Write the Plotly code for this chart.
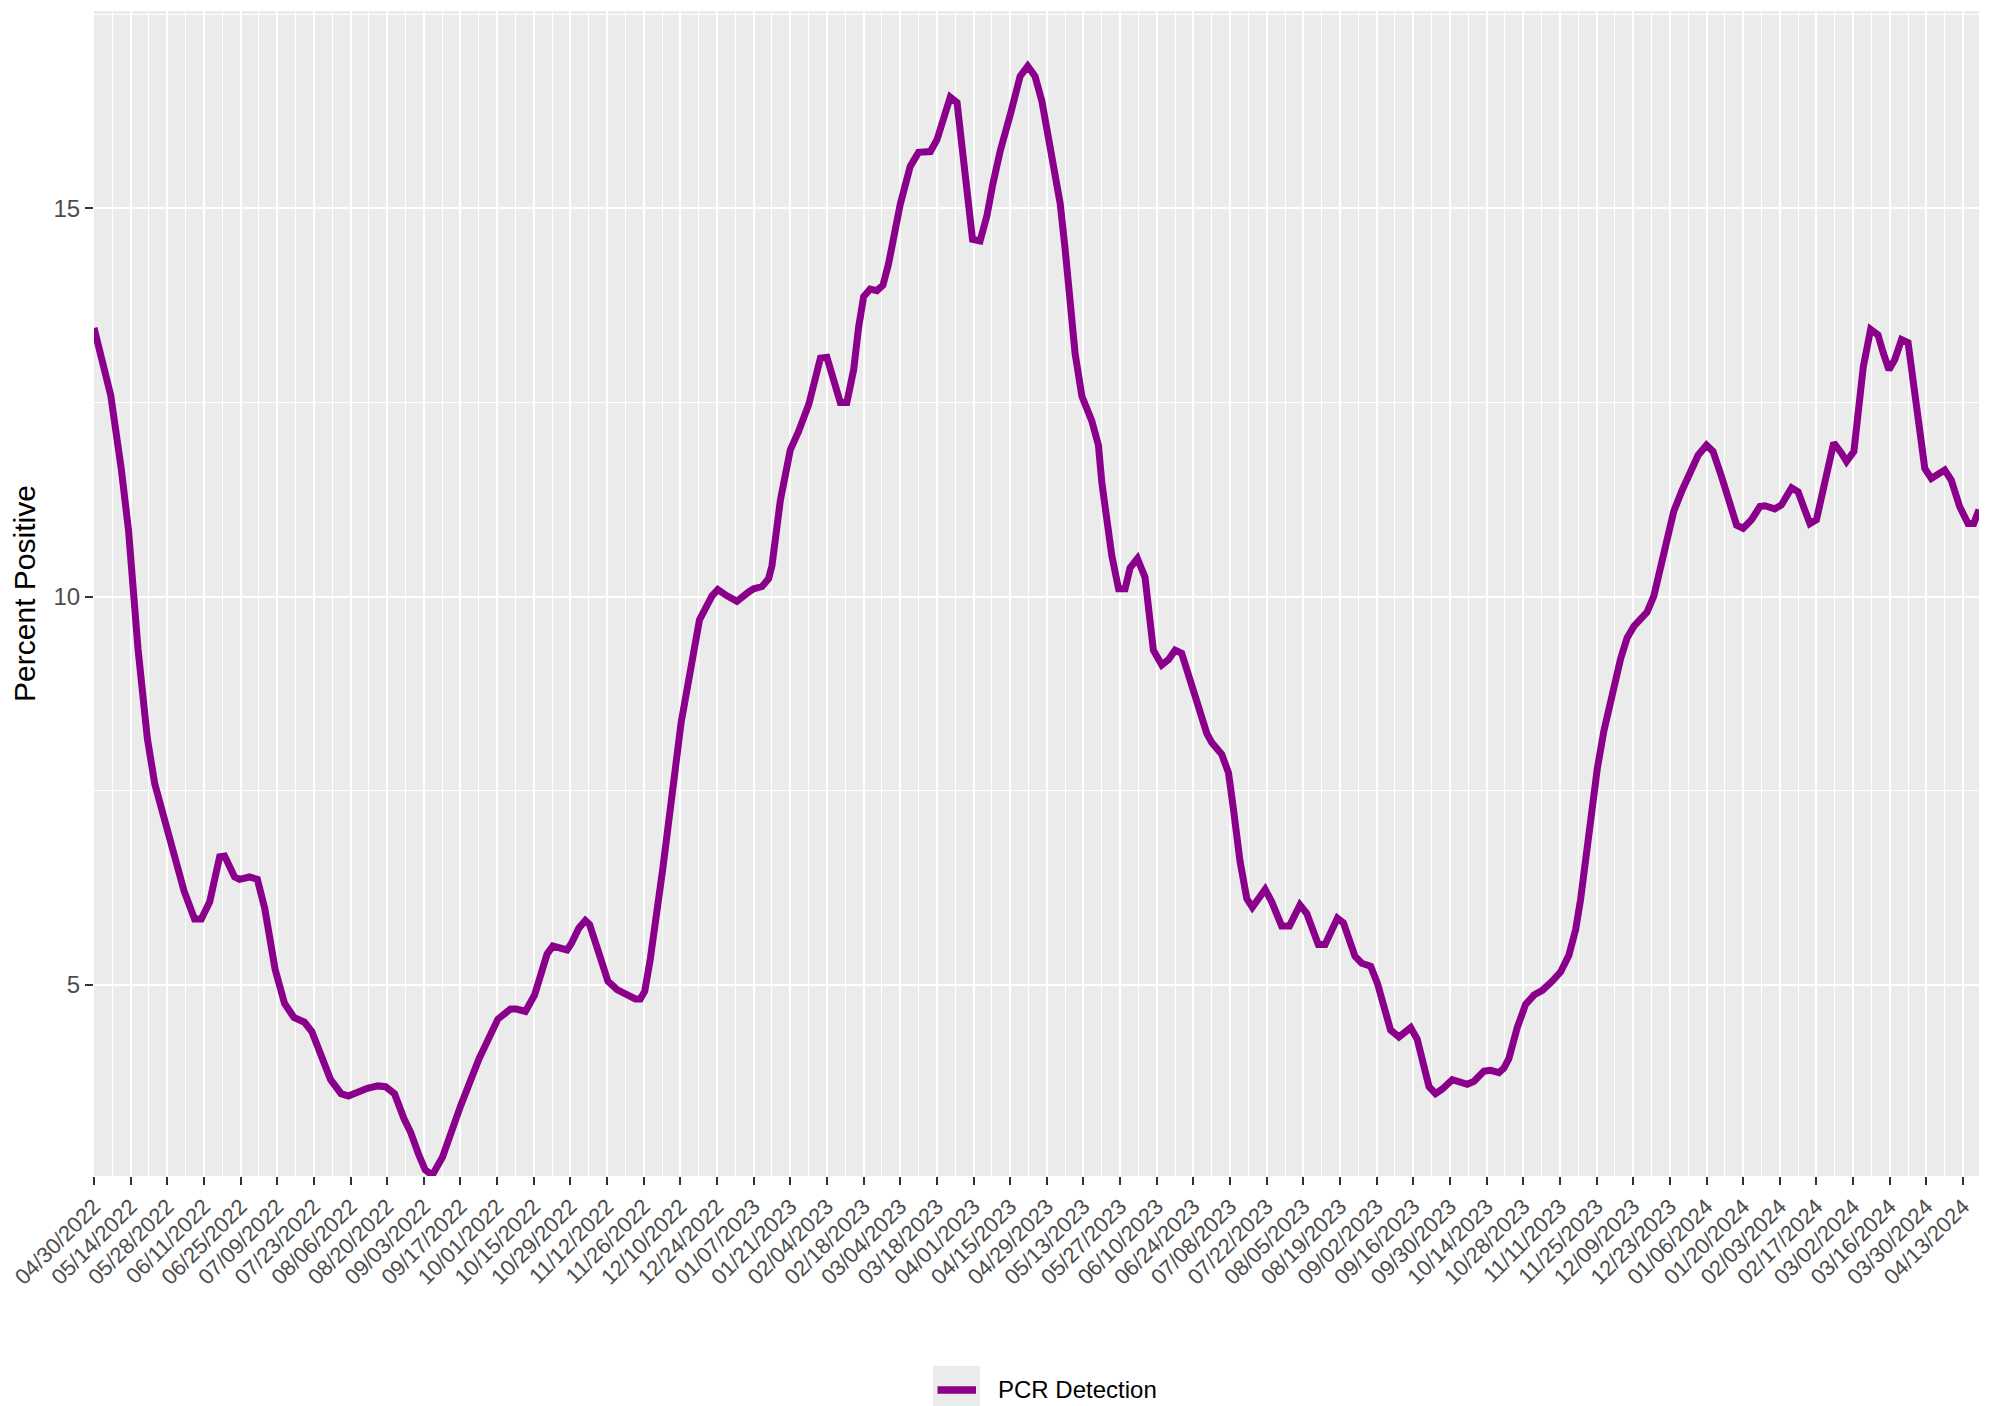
import pandas as pd
import plotly.graph_objects as go

start_date = "2022-04-30"
series_name = "PCR Detection"
y_title = "Percent Positive"

days_since_start = [
    0, 6.4, 10.4, 13.2, 16.8, 20.4, 23.2, 27.5, 30.8, 34.4, 38.4, 41.0, 44.2, 48.0, 49.9,
    53.7, 55.6, 59.4, 62.4, 65.2, 69.2, 72.8, 76.4, 80.4, 83.2, 86.8, 90.4, 94.4, 97.2,
    104.4, 108.4, 111.4, 114.8, 118.4, 121.0, 124.0, 126.5, 129.2, 133.1, 140.0, 147.1,
    154.3, 159.1, 161.4, 164.8, 168.3, 173.1, 175.3, 180.7, 182.3, 185.2, 187.7, 189.3,
    192.2, 196.3, 199.8, 203.3, 206.8, 208.7, 210.4, 212.5, 217.3, 224.3, 231.3, 236.1,
    238.3, 241.8, 245.6, 250.1, 252.0, 255.2, 257.7, 259.0, 262.2, 266.0, 269.2, 273.1,
    277.5, 280.0, 282.5, 285.1, 287.6, 290.2, 292.1, 294.0, 296.5, 299.1, 301.4, 303.5,
    308.0, 311.8, 315.0, 319.5, 322.0, 327.1, 329.7, 335.6, 338.5, 341.1, 343.3, 346.2,
    350.3, 353.8, 356.7, 359.5, 362.1, 364.6, 369.1, 371.0, 374.8, 377.4, 381.2, 383.7,
    385.0, 388.8, 391.4, 393.9, 395.8, 398.6, 401.5, 404.7, 407.9, 410.5, 413.0, 415.5,
    418.1, 420.0, 425.1, 427.0, 430.8, 433.4, 435.3, 437.8, 440.4, 442.5, 447.4, 449.9,
    453.7, 456.7, 460.7, 463.3, 467.7, 470.3, 475.0, 477.3, 481.7, 484.3, 487.7, 490.3,
    492.8, 495.3, 498.5, 503.0, 505.5, 508.1, 510.0, 512.5, 515.1, 518.9, 522.1, 524.6,
    527.2, 531.0, 533.5, 536.7, 538.6, 540.5, 543.7, 546.9, 550.1, 553.3, 557.1, 560.3,
    563.4, 566.0, 567.9, 570.4, 572.3, 574.3, 576.8, 580.0, 583.2, 585.7, 588.3, 590.8,
    593.3, 595.9, 598.4, 601.0, 603.5, 606.7, 609.8, 612.8, 616.0, 618.5, 621.7, 624.9,
    627.5, 630.0, 633.2, 636.4, 638.3, 642.1, 644.6, 648.5, 651.0, 653.5, 655.5, 658.0,
    660.5, 662.5, 664.6, 667.5, 669.5, 672.3, 673.9, 675.9, 678.7, 681.5, 683.5, 685.7,
    687.9, 690.5, 693.0, 694.9, 697.5, 699.4, 701.9, 704.5, 707.0, 709.5, 712.7, 715.9,
    718.1, 720.1,
]

percent_positive = [
    13.46, 12.59, 11.65, 10.85, 9.33, 8.17, 7.59, 7.08, 6.65, 6.21, 5.85, 5.85, 6.07, 6.65, 6.66,
    6.39, 6.36, 6.39, 6.36, 5.99, 5.20, 4.76, 4.58, 4.52, 4.40, 4.11, 3.78, 3.60, 3.57,
    3.67, 3.70, 3.69, 3.60, 3.28, 3.10, 2.82, 2.62, 2.55, 2.78, 3.44, 4.05,
    4.56, 4.69, 4.69, 4.66, 4.87, 5.40, 5.50, 5.45, 5.53, 5.73, 5.83, 5.78,
    5.48, 5.05, 4.94, 4.89, 4.82, 4.82, 4.92, 5.33, 6.50, 8.38, 9.70, 10.01,
    10.09, 10.01, 9.94, 10.06, 10.10, 10.13, 10.23, 10.40, 11.24, 11.89, 12.13, 12.48,
    13.07, 13.08, 12.83, 12.50, 12.50, 12.92, 13.47, 13.86, 13.96, 13.94, 14.01, 14.28,
    15.05, 15.54, 15.72, 15.73, 15.88, 16.43, 16.36, 14.60, 14.58, 14.90, 15.30, 15.74,
    16.24, 16.70, 16.83, 16.70, 16.38, 15.95, 15.06, 14.47, 13.13, 12.58, 12.26, 11.95,
    11.47, 10.53, 10.10, 10.10, 10.37, 10.49, 10.25, 9.31, 9.12, 9.19, 9.31, 9.27,
    9.03, 8.79, 8.24, 8.12, 7.97, 7.73, 7.26, 6.59, 6.11, 6.00, 6.23, 6.07,
    5.76, 5.76, 6.03, 5.92, 5.52, 5.52, 5.86, 5.80, 5.37, 5.28, 5.24, 5.02,
    4.72, 4.42, 4.33, 4.45, 4.30, 3.93, 3.69, 3.60, 3.66, 3.78, 3.74, 3.72,
    3.76, 3.89, 3.90, 3.87, 3.93, 4.05, 4.45, 4.75, 4.87, 4.93, 5.05, 5.17,
    5.38, 5.71, 6.10, 6.76, 7.30, 7.79, 8.27, 8.75, 9.20, 9.47, 9.62, 9.71,
    9.80, 10.01, 10.37, 10.79, 11.10, 11.37, 11.60, 11.82, 11.95, 11.87, 11.55, 11.16,
    10.92, 10.88, 10.99, 11.16, 11.17, 11.13, 11.18, 11.40, 11.35, 11.12, 10.94, 10.99,
    11.37, 11.76, 11.98, 11.85, 11.74, 11.87, 12.28, 12.96, 13.44, 13.37, 13.14, 12.92,
    13.05, 13.31, 13.27, 12.79, 12.10, 11.65, 11.52, 11.59, 11.63, 11.50, 11.16, 10.94,
    10.94, 11.12,
]

y_tick_values = [5, 10, 15]
y_limits = [2.54, 17.54]
x_tick_step_days = 14
x_last_tick = "2024-04-13"

start = pd.Timestamp(start_date)
dates = [start + pd.to_timedelta(d, unit="D") for d in days_since_start]
x_ticks = list(pd.date_range(start, pd.Timestamp(x_last_tick), freq=f"{x_tick_step_days}D"))
x_ticktext = [t.strftime("%m/%d/%Y") for t in x_ticks]

FONT = "Liberation Sans, Arial, sans-serif"
TXT = "#4D4D4D"
LINE_COLOR = "#8B008B"

# page body has an 8px margin, so the figure is 8px smaller than the window
W, H = 1992, 1398
ML, MR, MT, MB = 86, 21, 3, 230
PW = W - ML - MR
PH = H - MT - MB


def px_x(px):  # figure pixel -> paper x
    return (px - ML) / PW


def px_y(py):  # figure pixel (from top) -> paper y
    return 1 - (py - MT) / PH


fig = go.Figure()
fig.add_trace(go.Scatter(
    x=dates, y=percent_positive, mode="lines", name=series_name,
    line=dict(color=LINE_COLOR, width=7), showlegend=False,
))

# ggplot-style legend below the panel: grey key box, line key, label
key_x0, key_x1, key_y0, key_y1 = 925, 972, 1358, 1398
legend_mid_y = 1382
fig.add_shape(type="rect", xref="paper", yref="paper",
              x0=px_x(key_x0), x1=px_x(key_x1), y0=px_y(key_y1), y1=px_y(key_y0),
              fillcolor="#EBEBEB", line=dict(width=0), layer="below")
fig.add_shape(type="line", xref="paper", yref="paper",
              x0=px_x(key_x0 + 4.5), x1=px_x(key_x1 - 4), y0=px_y(legend_mid_y), y1=px_y(legend_mid_y),
              line=dict(color=LINE_COLOR, width=7.5))
fig.add_annotation(text=series_name, xref="paper", yref="paper",
                   x=px_x(988), y=px_y(legend_mid_y), xanchor="left", yanchor="middle",
                   showarrow=False, font=dict(size=24, color="black", family=FONT))

fig.update_layout(
    width=W, height=H,
    margin=dict(l=ML, r=MR, t=MT, b=MB, autoexpand=False),
    paper_bgcolor="white", plot_bgcolor="#EBEBEB",
    font=dict(family=FONT, size=24, color="black"),
    showlegend=False,
)

fig.update_xaxes(
    type="date", range=[dates[0], dates[-1]],
    tickmode="array", tickvals=x_ticks, ticktext=x_ticktext, tickangle=-45,
    tickfont=dict(size=22, color=TXT, family=FONT), ticklabeloverflow="allow",
    ticks="outside", ticklen=8, tickwidth=2.3, tickcolor="#333333",
    showgrid=True, gridcolor="white", gridwidth=2.3,
    minor=dict(tick0=start + pd.Timedelta(days=7), dtick=7 * 86400000, showgrid=True,
               gridcolor="white", gridwidth=1.2, ticks=""),
    showline=False, zeroline=False, automargin=False,
)

fig.update_yaxes(
    range=y_limits, tickmode="array", tickvals=y_tick_values,
    tickfont=dict(size=24, color=TXT, family=FONT),
    ticks="outside", ticklen=8, tickwidth=2.3, tickcolor="#333333",
    showgrid=True, gridcolor="white", gridwidth=2.3,
    minor=dict(tick0=0, dtick=2.5, showgrid=True, gridcolor="white", gridwidth=1.2, ticks=""),
    title=dict(text=y_title, font=dict(size=30, color="black", family=FONT), standoff=11),
    showline=False, zeroline=False, automargin=False,
)

fig.write_html("out.html")
